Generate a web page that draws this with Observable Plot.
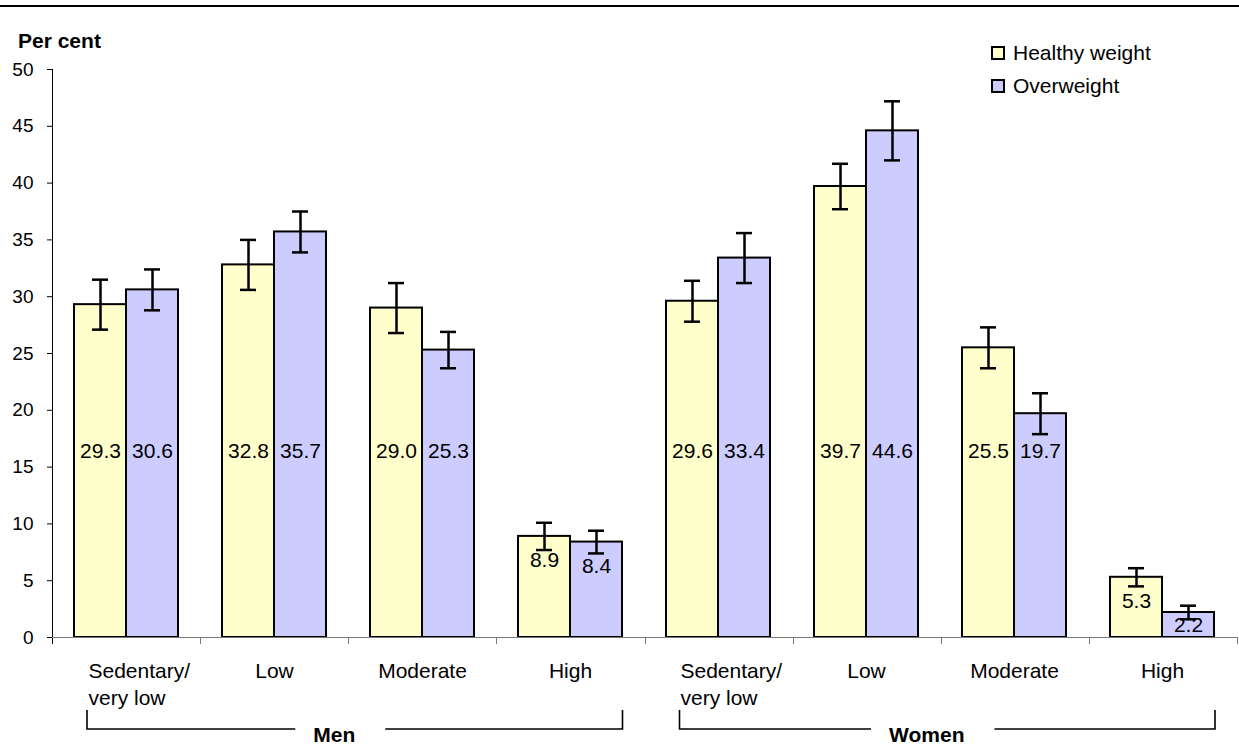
<!DOCTYPE html>
<html>
<head>
<meta charset="utf-8">
<script src="https://cdn.jsdelivr.net/npm/d3@7"></script>
<script src="https://cdn.jsdelivr.net/npm/@observablehq/plot@0.6"></script>
<style>
  body { margin: 0; background: #fff; font-family: "Liberation Sans", Arial, sans-serif; }
  #fig { position: relative; width: 1239px; height: 747px; overflow: hidden; }
  #fig svg { position: absolute; left: 0; top: 0; }
  #rule { position: absolute; left: 0; top: 5px; width: 1239px; height: 2px; background: #000; }
  #legend { position: absolute; left: 991px; top: 36px; font-size: 21px; color: #000; }
  .sw { display: flex; align-items: center; height: 33px; white-space: nowrap; }
  .sw i { display: inline-block; width: 10px; height: 10px; border: 2px solid #000; margin-right: 8px; }
</style>
</head>
<body>
<div id="fig"></div>
<script>
// Physical activity level by weight status, men and women (per cent)
const groups = ["Men", "Women"];
const levels = ["Sedentary/\nvery low", "Low", "Moderate", "High"];
const series = ["Healthy weight", "Overweight"];

const menHealthy = [29.3, 32.8, 29.0, 8.9];
const menOverweight = [30.6, 35.7, 25.3, 8.4];
const womenHealthy = [29.6, 39.7, 25.5, 5.3];
const womenOverweight = [33.4, 44.6, 19.7, 2.2];

// half-widths of the confidence intervals
const menHealthyErr = [2.2, 2.2, 2.2, 1.2];
const menOverweightErr = [1.8, 1.8, 1.6, 1.0];
const womenHealthyErr = [1.8, 2.0, 1.8, 0.8];
const womenOverweightErr = [2.2, 2.6, 1.8, 0.6];

const yTicks = [0, 5, 10, 15, 20, 25, 30, 35, 40, 45, 50];
const colors = ["#FFFFCC", "#CCCCFF"];

const valueTable = {
  Men: {"Healthy weight": [menHealthy, menHealthyErr], "Overweight": [menOverweight, menOverweightErr]},
  Women: {"Healthy weight": [womenHealthy, womenHealthyErr], "Overweight": [womenOverweight, womenOverweightErr]}
};

const keyOf = (g, l) => g + "|" + l;
const keys = groups.flatMap(g => levels.map(l => keyOf(g, l)));

const rows = [];
for (const g of groups) {
  levels.forEach((l, i) => {
    for (const s of series) {
      const [vals, errs] = valueTable[g][s];
      rows.push({group: g, level: l, key: keyOf(g, l), series: s, value: vals[i], err: errs[i]});
    }
  });
}
const levelRows = groups.flatMap(g => levels.map(l => ({key: keyOf(g, l), label: l})));
const wrapped = levelRows.filter(d => d.label.includes("\n"));
const single = levelRows.filter(d => !d.label.includes("\n"));

// value labels sit mid-bar, kept clear of the error bar and capped for tall bars
const labelY = d => Math.min(16.4, Math.max(d.value / 2, d.value - 2.1));

const FONT = '"Liberation Sans", Arial, sans-serif';
const W = 1239, H = 747, ML = 52, MR = 2, MT = 69, MB = 110;
const PAD_IN = 0.297, PAD_OUT = PAD_IN / 2;
// the y axis belongs to the first facet; shift it back from the band to the frame edge
const stepPx = (W - ML - MR) / (keys.length - PAD_IN + 2 * PAD_OUT);
const axisShift = -PAD_OUT * stepPx;

const chart = Plot.plot({
  width: W,
  height: H,
  marginLeft: ML,
  marginRight: MR,
  marginTop: MT,
  marginBottom: MB,
  style: {fontFamily: FONT, fontSize: "19px", color: "#000", background: "transparent", overflow: "visible"},
  fx: {domain: keys, paddingInner: PAD_IN, paddingOuter: PAD_OUT, axis: null, label: null},
  x: {domain: series, padding: 0, axis: null},
  y: {domain: [0, 50], axis: null},
  color: {domain: series, range: colors},
  marks: [
    Plot.axisY({ticks: yTicks, tickSize: 5, tickPadding: 14, fontSize: 19, label: null, stroke: "#000", dx: axisShift}),
    Plot.barY(rows, {fx: "key", x: "series", y: "value", fill: "series", stroke: "#000", strokeWidth: 2}),
    Plot.ruleX(rows, {fx: "key", x: "series", y1: d => d.value - d.err, y2: d => d.value + d.err, stroke: "#000", strokeWidth: 2.5}),
    Plot.tickY(rows, {fx: "key", x: "series", y: d => d.value + d.err, stroke: "#000", strokeWidth: 2.5, insetLeft: 18, insetRight: 18}),
    Plot.tickY(rows, {fx: "key", x: "series", y: d => d.value - d.err, stroke: "#000", strokeWidth: 2.5, insetLeft: 18, insetRight: 18}),
    Plot.text(rows, {fx: "key", x: "series", y: labelY, text: d => d.value.toFixed(1), fontSize: 21, fill: "#000"}),
    Plot.text(single, {fx: "key", text: "label", frameAnchor: "bottom", lineAnchor: "top", dy: 26, fontSize: 21, fill: "#000"}),
    Plot.text(wrapped, {fx: "key", text: "label", frameAnchor: "bottom", lineAnchor: "top", textAnchor: "start", dx: -38, dy: 21, lineHeight: 1.29, fontSize: 21, fill: "#000"})
  ]
});

const fig = document.getElementById("fig");
fig.appendChild(chart);

// axis lines, category boundary ticks, group brackets and the y title
const fxs = chart.scale("fx");
const ys = chart.scale("y");
const band = d3.scaleBand().domain(fxs.domain).range(fxs.range)
  .paddingInner(fxs.paddingInner ?? PAD_IN).paddingOuter(fxs.paddingOuter ?? PAD_OUT);
const yScale = d3.scaleLinear().domain(ys.domain).range(ys.range);
const step = band.step(), half = (step - band.bandwidth()) / 2;
const bandStart = k => band(k) - half;
const bandEnd = k => band(k) + band.bandwidth() + half;
const y0 = yScale(0), yTop = yScale(50);
const left = band.range()[0], right = band.range()[1];

const svg = d3.select(chart);
const deco = svg.append("g").attr("fill", "none");
deco.append("line").attr("x1", left + 0.5).attr("x2", left + 0.5).attr("y1", yTop).attr("y2", y0 + 7).attr("stroke", "#000");
deco.append("line").attr("x1", left).attr("x2", right).attr("y1", y0 + 0.5).attr("y2", y0 + 0.5).attr("stroke", "#777");
const bounds = keys.map(bandEnd);
deco.selectAll(".bt").data(bounds).join("line")
  .attr("x1", d => Math.round(d) + 0.5).attr("x2", d => Math.round(d) + 0.5)
  .attr("y1", y0).attr("y2", y0 + 7).attr("stroke", "#777");

svg.append("text").text("Per cent")
  .attr("x", 18).attr("y", 48).attr("text-anchor", "start")
  .attr("font-family", FONT).attr("font-size", 21).attr("font-weight", "bold").attr("fill", "#000");

const brTop = y0 + 73, brBottom = y0 + 92;
for (const g of groups) {
  const gk = levels.map(l => keyOf(g, l));
  const x1 = bandStart(gk[0]) + 35;
  const x2 = bandEnd(gk[gk.length - 1]) - 22;
  const cx = (bandStart(gk[0]) + bandEnd(gk[gk.length - 1])) / 2 - 14;
  const t = svg.append("text").text(g)
    .attr("x", cx).attr("y", brBottom + 6).attr("dy", "0.35em").attr("text-anchor", "middle")
    .attr("font-family", FONT).attr("font-size", 21).attr("font-weight", "bold").attr("fill", "#000");
  const w = t.node().getComputedTextLength();
  const path = d3.path();
  path.moveTo(x1, brTop); path.lineTo(x1, brBottom); path.lineTo(cx - w / 2 - 18, brBottom);
  path.moveTo(cx + w / 2 + 30, brBottom); path.lineTo(x2, brBottom); path.lineTo(x2, brTop);
  svg.append("path").attr("d", path.toString()).attr("fill", "none").attr("stroke", "#000").attr("stroke-width", 1.6);
}

// legend
const color = chart.scale("color");
const legend = d3.select(fig).append("div").attr("id", "legend");
const item = legend.selectAll(".sw").data(color.domain).join("div").attr("class", "sw");
item.append("i").style("background", (d, i) => color.range[i]);
item.append("span").text(d => d);

d3.select(fig).append("div").attr("id", "rule");
</script>
</body>
</html>
